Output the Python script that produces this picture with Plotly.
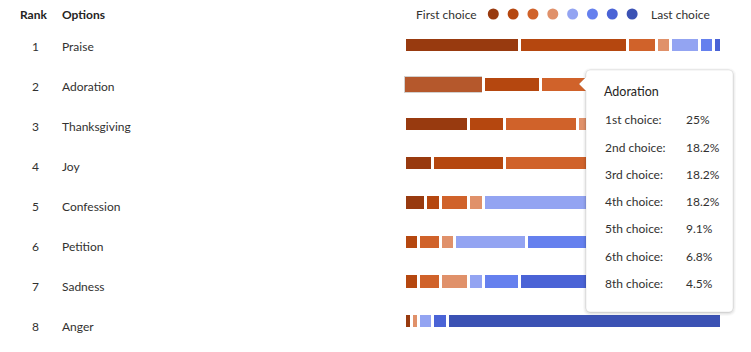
import plotly.graph_objects as go

# ---------------- data ----------------
options = ["Praise", "Adoration", "Thanksgiving", "Joy", "Confession", "Petition", "Sadness", "Anger"]
ranks = [1, 2, 3, 4, 5, 6, 7, 8]
respondents = 44
choice_names = ["1st choice", "2nd choice", "3rd choice", "4th choice",
                "5th choice", "6th choice", "7th choice", "8th choice"]
# number of respondents placing each option at a given choice
first_choice = [16, 11, 9, 4, 3, 0, 0, 1]
second_choice = [15, 8, 5, 10, 2, 2, 2, 0]
third_choice = [4, 8, 10, 12, 4, 3, 3, 0]
fourth_choice = [2, 8, 12, 13, 2, 2, 4, 1]
fifth_choice = [4, 4, 4, 3, 15, 10, 2, 2]
sixth_choice = [2, 3, 2, 1, 12, 19, 5, 0]
seventh_choice = [1, 0, 2, 1, 5, 6, 27, 2]
eighth_choice = [0, 2, 0, 0, 1, 2, 1, 38]
choice_counts = [first_choice, second_choice, third_choice, fourth_choice,
                 fifth_choice, sixth_choice, seventh_choice, eighth_choice]

colors = ["#983A0F", "#B5470F", "#D0622A", "#E0916A",
          "#93A4F2", "#6580EE", "#4A63D6", "#3B52B4"]
hover_color = "#B5582C"
hovered_option = "Adoration"

FONT = "Segoe UI, Lato, sans-serif"
TXT = "#323130"

W, H = 751, 352
def px(x):
    return x / W
def py(y):
    return 1 - y / H

# pixel geometry
X0, X100 = 404.5, 721.7
scale = (X100 - X0) / 100.0
ROW0, ROWSTEP = 45.5, 39.4
LAB0, LABSTEP = 46.5, 40.0

fig = go.Figure()
ypos = list(range(len(options)))
hi = options.index(hovered_option)
for c, counts in enumerate(choice_counts):
    vals = [v / respondents * 100 if v else None for v in counts]
    mcol = [colors[c]] * len(options)
    lcol = ["white"] * len(options)
    lw = [3] * len(options)
    if c == 0:
        mcol[hi] = hover_color
        lcol[hi] = "#D2D0CE"
        lw[hi] = 1.5
    fig.add_trace(go.Bar(
        x=vals, y=ypos, orientation="h", name=choice_names[c],
        marker=dict(color=mcol, line=dict(color=lcol, width=lw)),
        width=(12.4 + 3) / ROWSTEP, showlegend=False, hoverinfo="skip"))

fig.update_layout(
    barmode="stack", width=W, height=H,
    margin=dict(l=0, r=0, t=0, b=0),
    paper_bgcolor="white", plot_bgcolor="white",
    font=dict(family=FONT, size=12, color=TXT),
    bargap=0,
    xaxis=dict(range=[-X0 / scale, (W - X0) / scale], visible=False, fixedrange=True),
    yaxis=dict(range=[(H - ROW0) / ROWSTEP, -ROW0 / ROWSTEP], visible=False, fixedrange=True),
)

ann = []
# header
ann.append(dict(text="<b>Rank</b>", x=px(33.5), y=py(14), xref="paper", yref="paper",
                xanchor="center", yanchor="middle", showarrow=False,
                font=dict(size=12, color="#252423")))
ann.append(dict(text="<b>Options</b>", x=px(60), y=py(14), xref="paper", yref="paper",
                xanchor="left", yanchor="middle", showarrow=False,
                font=dict(size=12, color="#252423")))
# rows
for k, (r, o) in enumerate(zip(ranks, options)):
    yy = LAB0 + LABSTEP * k
    ann.append(dict(text=str(r), x=px(35), y=py(yy), xref="paper", yref="paper",
                    xanchor="center", yanchor="middle", showarrow=False,
                    font=dict(size=12, color=TXT)))
    ann.append(dict(text=o, x=px(60), y=py(yy), xref="paper", yref="paper",
                    xanchor="left", yanchor="middle", showarrow=False,
                    font=dict(size=12, color=TXT)))
# legend
ann.append(dict(text="First choice", x=px(479), y=py(14), xref="paper", yref="paper",
                xanchor="right", yanchor="middle", showarrow=False,
                font=dict(size=12, color=TXT)))
ann.append(dict(text="Last choice", x=px(648.5), y=py(14), xref="paper", yref="paper",
                xanchor="left", yanchor="middle", showarrow=False,
                font=dict(size=12, color=TXT)))

shapes = []
for i, col in enumerate(colors):
    cx = 493.3 + i * 19.83
    shapes.append(dict(type="circle", xref="paper", yref="paper",
                       x0=px(cx - 5.5), x1=px(cx + 5.5), y0=py(14 + 5.5), y1=py(14 - 5.5),
                       fillcolor=col, line=dict(width=0)))

# tooltip
def tip_path(l, t, r, b, rad, arrow=True):
    pts = []
    pts.append(f"M {px(l + rad)},{py(t)}")
    pts.append(f"L {px(r - rad)},{py(t)}")
    pts.append(f"Q {px(r)},{py(t)} {px(r)},{py(t + rad)}")
    pts.append(f"L {px(r)},{py(b - rad)}")
    pts.append(f"Q {px(r)},{py(b)} {px(r - rad)},{py(b)}")
    pts.append(f"L {px(l + rad)},{py(b)}")
    pts.append(f"Q {px(l)},{py(b)} {px(l)},{py(b - rad)}")
    if arrow:
        pts.append(f"L {px(l)},{py(91)}")
        pts.append(f"L {px(l - 7)},{py(84)}")
        pts.append(f"L {px(l)},{py(77)}")
    pts.append(f"L {px(l)},{py(t + rad)}")
    pts.append(f"Q {px(l)},{py(t)} {px(l + rad)},{py(t)}")
    pts.append("Z")
    return " ".join(pts)

TL, TT, TR, TB = 586, 70, 733, 312
for s, a in [(4, 0.025), (3, 0.03), (2, 0.04), (1, 0.05)]:
    shapes.append(dict(type="path", xref="paper", yref="paper",
                       path=tip_path(TL - s + 1, TT - s + 2, TR + s - 1, TB + s, 4 + s, arrow=False),
                       fillcolor=f"rgba(0,0,0,{a})", line=dict(width=0)))
shapes.append(dict(type="path", xref="paper", yref="paper",
                   path=tip_path(TL, TT, TR, TB, 4),
                   fillcolor="white", line=dict(color="rgba(0,0,0,0.07)", width=1)))

ann.append(dict(text=hovered_option, x=px(602), y=py(91), xref="paper", yref="paper",
                xanchor="left", yanchor="middle", showarrow=False,
                font=dict(size=12.5, color="#252423", family=FONT)))

def fmt(v):
    p = round(v / respondents * 100, 1)
    s = f"{p:.1f}"
    if s.endswith(".0"):
        s = s[:-2]
    return s + "%"

row = 0
for c, counts in enumerate(choice_counts):
    v = counts[hi]
    if not v:
        continue
    yy = 120 + row * 27.2
    ann.append(dict(text=choice_names[c] + ":", x=px(603), y=py(yy), xref="paper", yref="paper",
                    xanchor="left", yanchor="middle", showarrow=False,
                    font=dict(size=12, color=TXT)))
    ann.append(dict(text=fmt(v), x=px(684), y=py(yy), xref="paper", yref="paper",
                    xanchor="left", yanchor="middle", showarrow=False,
                    font=dict(size=12, color=TXT)))
    row += 1

fig.update_layout(annotations=ann, shapes=shapes)
fig.write_html("out.html", config={"displayModeBar": False})
